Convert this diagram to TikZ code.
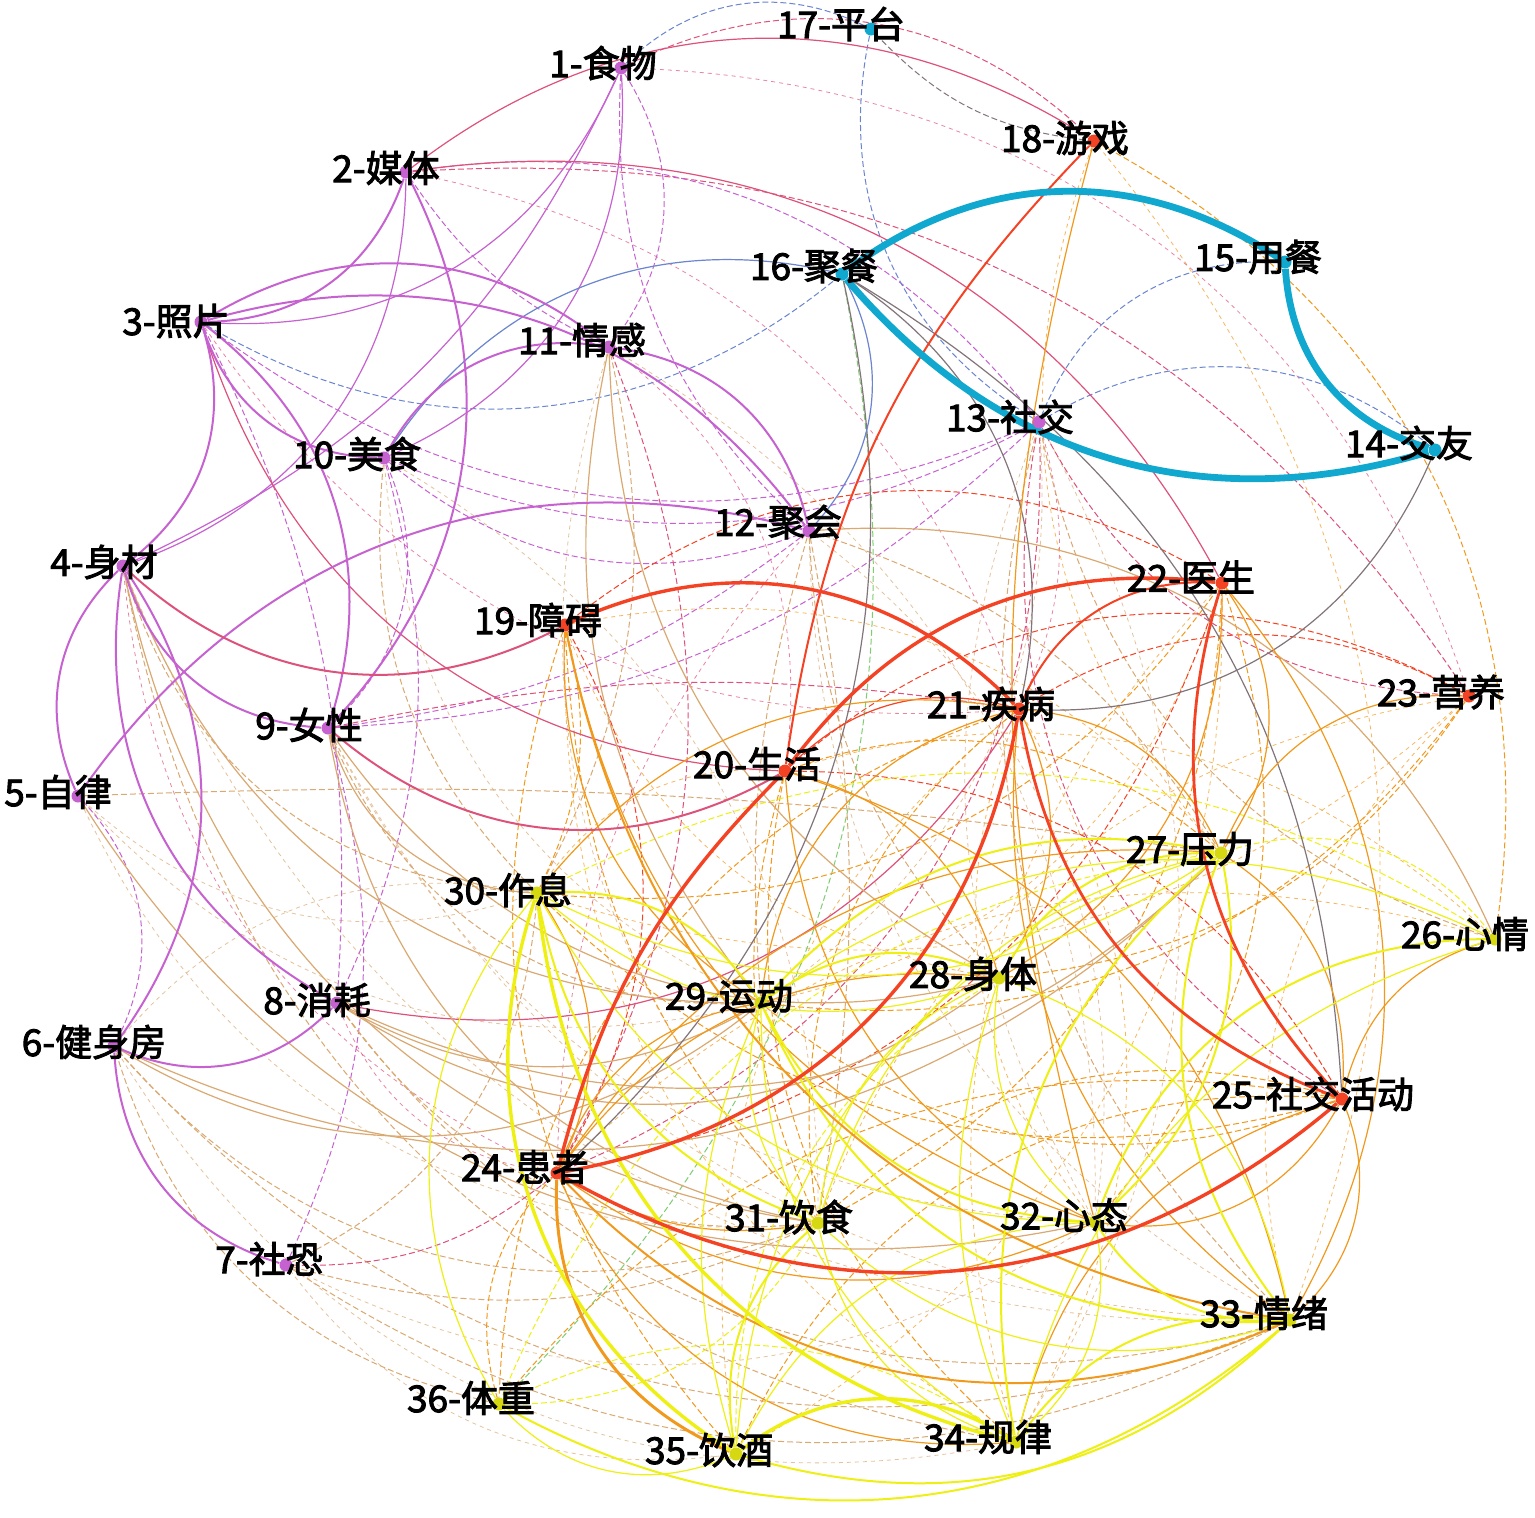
\documentclass[tikz,border=0pt]{standalone}
\usepackage{fontspec}
\newfontfamily\lbf{Noto Sans CJK SC}[FakeBold=2.5]
\definecolor{pu}{RGB}{198,98,208}
\definecolor{bl}{RGB}{16,168,206}
\definecolor{re}{RGB}{244,66,36}
\definecolor{ye}{RGB}{238,240,20}
\newcommand\grp[1]{\ifnum#1<14 pu\else\ifnum#1<18 bl\else\ifnum#1<26 re\else ye\fi\fi\fi}
\newcommand\gedge[4]{\edef\gcc{\grp{#1}!50!\grp{#2}}\draw[#3,draw=\gcc] (n#1) to[bend left=#4] (n#2);}
\pgfdeclarelayer{bg}
\pgfdeclarelayer{edges}
\pgfsetlayers{bg,edges,main}
\tikzset{
  w1/.style={line width=3.4pt},
  w2/.style={line width=1.7pt},
  w3/.style={line width=1.0pt},
  w4/.style={line width=0.6pt},
  w5/.style={line width=0.5pt,dash pattern=on 3pt off 1.5pt},
  w6/.style={line width=0.4pt,dash pattern=on 2pt off 2pt,draw opacity=0.7},
  dotpu/.style={circle,inner sep=0pt,minimum size=6.5pt,fill=pu},
  dotbl/.style={circle,inner sep=0pt,minimum size=6.5pt,fill=bl},
  dotre/.style={circle,inner sep=0pt,minimum size=6.5pt,fill=re},
  dotye/.style={circle,inner sep=0pt,minimum size=6.5pt,fill=ye!90!black},
  lab/.style={inner sep=0pt,font=\lbf\fontsize{18.5}{18.5}\selectfont,text=black}
}
\begin{document}
\begin{tikzpicture}[x=0.5pt,y=-0.5pt]
\begin{pgfonlayer}{bg}
\fill[white] (0,0) rectangle (1535,1517);
\end{pgfonlayer}
\useasboundingbox (0,0) rectangle (1535,1517);
% dots
\node[dotpu] (n1) at (621,68) {};
\node[dotpu] (n2) at (406,172) {};
\node[dotpu] (n3) at (201,322) {};
\node[dotpu] (n4) at (123,566) {};
\node[dotpu] (n5) at (78,796) {};
\node[dotpu] (n6) at (114,1046) {};
\node[dotpu] (n7) at (286,1265) {};
\node[dotpu] (n8) at (337,1003) {};
\node[dotpu] (n9) at (328,728) {};
\node[dotpu] (n10) at (384,458) {};
\node[dotpu] (n11) at (609,347) {};
\node[dotpu] (n12) at (809,531) {};
\node[dotpu] (n13) at (1039,422) {};
\node[dotbl] (n14) at (1435,450) {};
\node[dotbl] (n15) at (1285,262) {};
\node[dotbl] (n16) at (842,274) {};
\node[dotbl] (n17) at (871,29) {};
\node[dotre] (n18) at (1094,141) {};
\node[dotre] (n19) at (565,625) {};
\node[dotre] (n20) at (785,771) {};
\node[dotre] (n21) at (1019,709) {};
\node[dotre] (n22) at (1222,583) {};
\node[dotre] (n23) at (1469,696) {};
\node[dotre] (n24) at (557,1173) {};
\node[dotre] (n25) at (1342,1099) {};
\node[dotye] (n26) at (1495,939) {};
\node[dotye] (n27) at (1221,853) {};
\node[dotye] (n28) at (999,978) {};
\node[dotye] (n29) at (761,1003) {};
\node[dotye] (n30) at (537,893) {};
\node[dotye] (n31) at (818,1223) {};
\node[dotye] (n32) at (1095,1222) {};
\node[dotye] (n33) at (1290,1320) {};
\node[dotye] (n34) at (1016,1442) {};
\node[dotye] (n35) at (736,1454) {};
\node[dotye] (n36) at (499,1404) {};
% labels
\node[lab] (l1) at (603,63) {1-食物};
\node[lab] (l2) at (386,168) {2-媒体};
\node[lab] (l3) at (176,321) {3-照片};
\node[lab] (l4) at (104,562) {4-身材};
\node[lab] (l5) at (58,792) {5-自律};
\node[lab] (l6) at (94,1042) {6-健身房};
\node[lab] (l7) at (269,1259) {7-社恐};
\node[lab] (l8) at (317,1000) {8-消耗};
\node[lab] (l9) at (309,725) {9-女性};
\node[lab] (l10) at (357,454) {10-美食};
\node[lab] (l11) at (582,340) {11-情感};
\node[lab] (l12) at (778,522) {12-聚会};
\node[lab] (l13) at (1010,417) {13-社交};
\node[lab] (l14) at (1409,443) {14-交友};
\node[lab] (l15) at (1258,257) {15-用餐};
\node[lab] (l16) at (814,266) {16-聚餐};
\node[lab] (l17) at (841,24) {17-平台};
\node[lab] (l18) at (1065,138) {18-游戏};
\node[lab] (l19) at (538,620) {19-障碍};
\node[lab] (l20) at (757,764) {20-生活};
\node[lab] (l21) at (991,704) {21-疾病};
\node[lab] (l22) at (1191,577) {22-医生};
\node[lab] (l23) at (1441,692) {23-营养};
\node[lab] (l24) at (525,1167) {24-患者};
\node[lab] (l25) at (1313,1094) {25-社交活动};
\node[lab] (l26) at (1465,934) {26-心情};
\node[lab] (l27) at (1190,849) {27-压力};
\node[lab] (l28) at (973,974) {28-身体};
\node[lab] (l29) at (729,996) {29-运动};
\node[lab] (l30) at (508,890) {30-作息};
\node[lab] (l31) at (789,1217) {31-饮食};
\node[lab] (l32) at (1064,1215) {32-心态};
\node[lab] (l33) at (1264,1313) {33-情绪};
\node[lab] (l34) at (988,1437) {34-规律};
\node[lab] (l35) at (709,1450) {35-饮酒};
\node[lab] (l36) at (471,1398) {36-体重};
\begin{pgfonlayer}{edges}
% ---- faint
\gedge{20}{26}{w6}{30}
\gedge{20}{30}{w6}{-30}
\gedge{21}{32}{w6}{-30}
\gedge{21}{34}{w6}{30}
\gedge{21}{35}{w6}{-30}
\gedge{22}{29}{w6}{30}
\gedge{22}{34}{w6}{-30}
\gedge{22}{35}{w6}{30}
\gedge{19}{28}{w6}{-30}
\gedge{19}{27}{w6}{30}
\gedge{19}{34}{w6}{-30}
\gedge{24}{26}{w6}{30}
\gedge{23}{30}{w6}{30}
\gedge{23}{31}{w6}{-30}
\gedge{23}{33}{w6}{-30}
\gedge{18}{27}{w6}{-30}
\gedge{18}{33}{w6}{30}
\gedge{12}{33}{w6}{-30}
\gedge{12}{32}{w6}{30}
\gedge{11}{31}{w6}{-30}
\gedge{11}{32}{w6}{30}
\gedge{9}{33}{w6}{-30}
\gedge{9}{32}{w6}{-30}
\gedge{4}{33}{w6}{-35}
\gedge{5}{29}{w6}{-30}
\gedge{5}{30}{w6}{-30}
\gedge{5}{31}{w6}{-35}
\gedge{6}{30}{w6}{30}
\gedge{6}{34}{w6}{-35}
\gedge{7}{35}{w6}{-30}
\gedge{7}{32}{w6}{-30}
\gedge{10}{29}{w6}{-30}
\gedge{10}{31}{w6}{30}
\gedge{13}{29}{w6}{30}
\gedge{13}{32}{w6}{-25}
\gedge{13}{34}{w6}{30}
\gedge{13}{21}{w6}{20}
\gedge{12}{24}{w6}{-20}
\gedge{11}{20}{w6}{30}
\gedge{2}{21}{w6}{30}
\gedge{1}{23}{w6}{35}
\gedge{3}{21}{w6}{-30}
\gedge{4}{24}{w6}{-30}
\gedge{8}{24}{w6}{-30}
% ---- thin dashed
\gedge{1}{18}{w5}{35}
\gedge{1}{17}{w5}{35}
\gedge{2}{23}{w5}{30}
\gedge{2}{11}{w5}{-15}
\gedge{2}{13}{w5}{30}
\gedge{1}{11}{w5}{35}
\gedge{1}{12}{w5}{-25}
\gedge{3}{13}{w5}{-30}
\gedge{3}{16}{w5}{-35}
\gedge{10}{13}{w5}{-25}
\gedge{9}{13}{w5}{-20}
\gedge{10}{12}{w5}{-30}
\gedge{9}{12}{w5}{-15}
\gedge{10}{9}{w5}{35}
\gedge{10}{8}{w5}{20}
\gedge{5}{6}{w5}{35}
\gedge{9}{7}{w5}{20}
\gedge{3}{8}{w5}{15}
\gedge{9}{21}{w5}{10}
\gedge{5}{27}{w5}{5}
\gedge{6}{31}{w5}{-35}
\gedge{6}{33}{w5}{-35}
\gedge{6}{36}{w5}{-30}
\gedge{8}{33}{w5}{-35}
\gedge{8}{31}{w5}{-30}
\gedge{9}{29}{w5}{-35}
\gedge{4}{34}{w5}{-35}
\gedge{4}{30}{w5}{-35}
\gedge{12}{29}{w5}{-10}
\gedge{12}{31}{w5}{10}
\gedge{12}{28}{w5}{-20}
\gedge{12}{27}{w5}{20}
\gedge{11}{30}{w5}{20}
\gedge{11}{24}{w5}{25}
\gedge{10}{30}{w5}{-25}
\gedge{7}{31}{w5}{-20}
\gedge{7}{33}{w5}{-30}
\gedge{7}{30}{w5}{-30}
\gedge{7}{24}{w5}{-20}
\gedge{13}{33}{w5}{-30}
\gedge{13}{25}{w5}{-35}
\gedge{13}{24}{w5}{35}
\gedge{13}{23}{w5}{-30}
\gedge{13}{26}{w5}{-30}
\gedge{16}{36}{w5}{28}
\gedge{17}{13}{w5}{-35}
\gedge{15}{13}{w5}{-35}
\gedge{14}{13}{w5}{-35}
\gedge{17}{18}{w5}{-20}
\gedge{18}{26}{w5}{35}
\gedge{20}{23}{w5}{35}
\gedge{19}{22}{w5}{35}
\gedge{23}{29}{w5}{30}
\gedge{23}{28}{w5}{25}
\gedge{20}{31}{w5}{-20}
\gedge{20}{34}{w5}{-30}
\gedge{20}{27}{w5}{30}
\gedge{20}{25}{w5}{30}
\gedge{21}{31}{w5}{-30}
\gedge{21}{36}{w5}{-35}
\gedge{21}{23}{w5}{30}
\gedge{22}{32}{w5}{30}
\gedge{22}{31}{w5}{30}
\gedge{22}{30}{w5}{30}
\gedge{22}{24}{w5}{30}
\gedge{25}{29}{w5}{30}
\gedge{25}{30}{w5}{30}
\gedge{25}{31}{w5}{-30}
\gedge{25}{36}{w5}{-30}
\gedge{25}{35}{w5}{-35}
\gedge{24}{36}{w5}{-30}
\gedge{19}{31}{w5}{-20}
\gedge{19}{24}{w5}{30}
\gedge{19}{30}{w5}{20}
\gedge{19}{35}{w5}{-30}
\gedge{27}{26}{w5}{35}
\gedge{27}{36}{w5}{-30}
\gedge{28}{35}{w5}{-30}
\gedge{30}{26}{w5}{30}
\gedge{31}{36}{w5}{30}
\gedge{34}{36}{w5}{-30}
% ---- thin solid
\gedge{3}{1}{w4}{-35}
\gedge{2}{4}{w4}{35}
\gedge{1}{10}{w4}{35}
\gedge{4}{1}{w4}{-20}
\gedge{10}{16}{w4}{35}
\gedge{3}{20}{w4}{-35}
\gedge{8}{21}{w4}{-35}
\gedge{2}{18}{w4}{35}
\gedge{2}{22}{w4}{35}
\gedge{5}{32}{w4}{-35}
\gedge{6}{27}{w4}{-35}
\gedge{6}{29}{w4}{-35}
\gedge{8}{28}{w4}{-35}
\gedge{8}{29}{w4}{-30}
\gedge{8}{27}{w4}{-35}
\gedge{9}{30}{w4}{-35}
\gedge{9}{28}{w4}{-35}
\gedge{9}{31}{w4}{-35}
\gedge{4}{31}{w4}{-35}
\gedge{4}{29}{w4}{-35}
\gedge{12}{26}{w4}{35}
\gedge{11}{29}{w4}{-25}
\gedge{11}{28}{w4}{-30}
\gedge{16}{25}{w4}{28}
\gedge{16}{24}{w4}{30}
\gedge{16}{21}{w4}{35}
\gedge{14}{21}{w4}{35}
\gedge{16}{12}{w4}{35}
\gedge{18}{32}{w4}{-15}
\gedge{23}{27}{w4}{-35}
\gedge{20}{33}{w4}{30}
\gedge{20}{32}{w4}{-30}
\gedge{20}{28}{w4}{30}
\gedge{20}{21}{w4}{30}
\gedge{21}{29}{w4}{-35}
\gedge{21}{30}{w4}{-30}
\gedge{21}{27}{w4}{30}
\gedge{21}{33}{w4}{-30}
\gedge{21}{28}{w4}{30}
\gedge{22}{27}{w4}{35}
\gedge{22}{33}{w4}{35}
\gedge{22}{28}{w4}{30}
\gedge{25}{33}{w4}{35}
\gedge{25}{34}{w4}{-30}
\gedge{25}{32}{w4}{35}
\gedge{25}{26}{w4}{30}
\gedge{25}{27}{w4}{-30}
\gedge{24}{32}{w4}{-30}
\gedge{24}{31}{w4}{-20}
\gedge{24}{29}{w4}{30}
\gedge{30}{24}{w4}{30}
\gedge{24}{28}{w4}{30}
\gedge{24}{27}{w4}{30}
\gedge{24}{34}{w4}{-35}
\gedge{19}{29}{w4}{-30}
\gedge{19}{32}{w4}{-30}
\gedge{36}{35}{w4}{-35}
\gedge{30}{36}{w4}{-35}
\gedge{27}{35}{w4}{-35}
\gedge{27}{31}{w4}{-30}
\gedge{27}{30}{w4}{30}
\gedge{26}{34}{w4}{-30}
\gedge{26}{29}{w4}{-30}
\gedge{28}{33}{w4}{30}
\gedge{28}{34}{w4}{-20}
\gedge{28}{30}{w4}{30}
\gedge{28}{31}{w4}{-30}
\gedge{28}{32}{w4}{-30}
\gedge{29}{34}{w4}{-30}
\gedge{29}{31}{w4}{-30}
\gedge{29}{35}{w4}{-20}
\gedge{30}{32}{w4}{-30}
\gedge{31}{33}{w4}{-30}
\gedge{31}{34}{w4}{-30}
\gedge{32}{34}{w4}{30}
\gedge{32}{35}{w4}{-30}
% ---- medium
\gedge{2}{3}{w3}{35}
\gedge{3}{11}{w3}{35}
\gedge{3}{12}{w3}{35}
\gedge{3}{10}{w3}{-35}
\gedge{3}{4}{w3}{35}
\gedge{3}{9}{w3}{35}
\gedge{2}{9}{w3}{35}
\gedge{11}{10}{w3}{-35}
\gedge{11}{12}{w3}{35}
\gedge{5}{12}{w3}{35}
\gedge{4}{19}{w3}{-35}
\gedge{4}{5}{w3}{-35}
\gedge{4}{6}{w3}{35}
\gedge{4}{8}{w3}{-35}
\gedge{4}{9}{w3}{-35}
\gedge{6}{8}{w3}{-35}
\gedge{6}{7}{w3}{-35}
\gedge{9}{20}{w3}{-35}
\gedge{18}{20}{w3}{-18}
\gedge{21}{22}{w3}{35}
\gedge{19}{33}{w3}{-35}
\gedge{24}{33}{w3}{-35}
\gedge{36}{33}{w3}{-35}
\gedge{35}{33}{w3}{-30}
\gedge{27}{33}{w3}{-30}
\gedge{27}{32}{w3}{30}
\gedge{27}{34}{w3}{-30}
\gedge{27}{29}{w3}{-30}
\gedge{27}{28}{w3}{-30}
\gedge{26}{32}{w3}{-35}
\gedge{28}{29}{w3}{-30}
\gedge{29}{33}{w3}{-35}
\gedge{29}{32}{w3}{-30}
\gedge{30}{29}{w3}{30}
\gedge{30}{31}{w3}{-30}
\gedge{31}{35}{w3}{-30}
\gedge{32}{33}{w3}{-30}
\gedge{33}{34}{w3}{-30}
% ---- thick
\gedge{24}{35}{line width=1.5pt}{-35}
\gedge{30}{35}{w2}{-38}
\gedge{30}{34}{w2}{-35}
\gedge{35}{34}{w2}{35}
\gedge{19}{21}{w2}{35}
\gedge{20}{22}{w2}{30}
\gedge{21}{24}{w2}{35}
\gedge{20}{24}{w2}{-15}
\gedge{24}{25}{w2}{-35}
\gedge{22}{25}{line width=1.4pt}{-30}
\gedge{21}{25}{line width=1.4pt}{-30}
\gedge{16}{15}{w1}{35}
\gedge{15}{14}{w1}{-35}
\gedge{16}{14}{w1}{-33}
\end{pgfonlayer}
\end{tikzpicture}
\end{document}
